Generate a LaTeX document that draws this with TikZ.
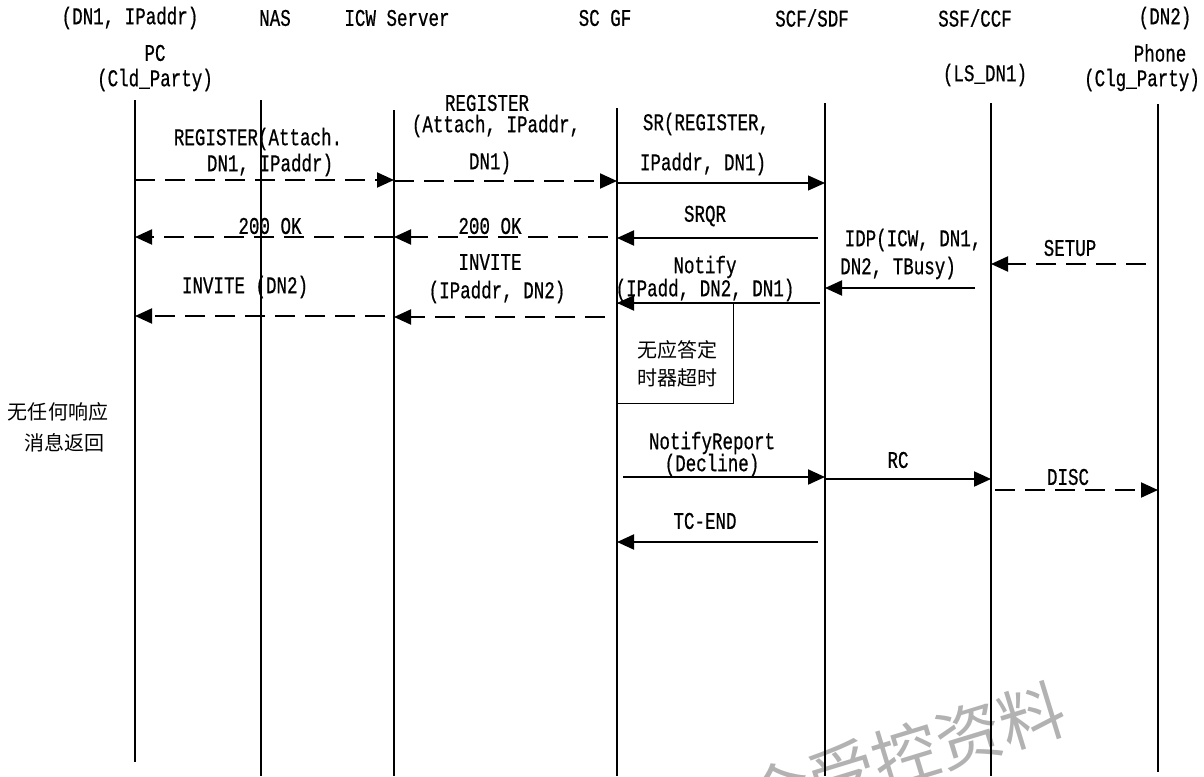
\documentclass[tikz,border=0pt]{standalone}
\usepackage{fontspec}
\setmainfont{Liberation Mono}[FakeStretch=0.73,FakeBold=0.6]
\newfontfamily\cjk{Noto Sans CJK SC}
\usetikzlibrary{arrows.meta}
\begin{document}
\begin{tikzpicture}[x=1pt,y=-1pt,
  lbl/.style={font=\fontsize{24}{26}\selectfont, inner sep=0pt, align=center},
  zh/.style={font=\cjk\fontsize{20}{28}\selectfont, inner sep=0pt, align=center},
  life/.style={line width=1.1pt, black},
  tip/.style={-{Triangle[length=17pt,width=15pt]}},
  dmsg/.style={tip, line width=2pt, dash pattern=on 20pt off 10pt},
  smsg/.style={tip, line width=2pt},
  tmsg/.style={tip, line width=1.2pt},
  wm/.style={font=\cjk\fontsize{66}{66}\selectfont, text=black!30, inner sep=0pt}]
\useasboundingbox (0,0) rectangle (1204,776);

% watermark (cut off at the lower edge, as in the reference)
\node[wm, rotate=17] (wmark) at (874,764) {非会受控资料};

% headers
\node[lbl] (h1a) at (130,18) {(DN1, IPaddr)};
\node[lbl] (h1b) at (155,53) {PC};
\node[lbl] (h1c) at (155,80) {(Cld\_Party)};
\node[lbl] (h2) at (275,18) {NAS};
\node[lbl] (h3) at (397,18) {ICW Server};
\node[lbl] (h4) at (605,18) {SC GF};
\node[lbl] (h5) at (812,18) {SCF/SDF};
\node[lbl] (h6a) at (975,18) {SSF/CCF};
\node[lbl] (h6b) at (985,75) {(LS\_DN1)};
\node[lbl] (h7a) at (1165,18) {(DN2)};
\node[lbl] (h7b) at (1160,53) {Phone};
\node[lbl] (h7c) at (1142,80) {(Clg\_Party)};

% lifelines
\coordinate (lpc) at (135,100);
\coordinate (lnas) at (261,100);
\coordinate (licw) at (394,110);
\coordinate (lgf) at (617,108);
\coordinate (lscf) at (825,103);
\coordinate (lssf) at (991,103);
\coordinate (lph) at (1158,104);
\draw[life] (lpc) -- (lpc|-0,762);
\draw[life] (lnas) -- (lnas|-0,776);
\draw[life] (licw) -- (licw|-0,776);
\draw[life] (lgf) -- (lgf|-0,776);
\draw[life] (lscf) -- (lscf|-0,776);
\draw[life] (lssf) -- (lssf|-0,776);
\draw[life] (lph) -- (lph|-0,772);

% 1 REGISTER PC -> ICW
\draw[dmsg] (lpc|-0,180) -- (licw|-0,180);
\node[lbl] (t1a) at (258,139) {REGISTER(Attach.};
\node[lbl] (t1b) at (270,165) {DN1, IPaddr)};
% 2 REGISTER ICW -> SC GF
\draw[dmsg] (licw|-0,181) -- (lgf|-0,181);
\node[lbl] (t2a) at (487,103) {REGISTER};
\node[lbl] (t2b) at (496,126) {(Attach, IPaddr,};
\node[lbl] (t2c) at (490,163) {DN1)};
% 3 SR
\draw[tmsg] (lgf|-0,183) -- (lscf|-0,183);
\node[lbl] (t3a) at (706,124) {SR(REGISTER,};
\node[lbl] (t3b) at (703,164) {IPaddr, DN1)};
% 4 SRQR
\coordinate (s4) at (818,238);
\draw[smsg] (s4) -- (lgf|-s4);
\node[lbl] (t4) at (705,216) {SRQR};
% 5 200 OK SC GF -> ICW
\coordinate (s5) at (608,237);
\draw[dmsg] (s5) -- (licw|-s5);
\node[lbl] (t5) at (490,226) {200 OK};
% 6 200 OK ICW -> PC
\draw[dmsg] (licw|-0,237) -- (lpc|-0,237);
\node[lbl] (t6) at (270,226) {200  OK};
% 7 SETUP
\coordinate (s7) at (1146,264);
\draw[dmsg] (s7) -- (lssf|-s7);
\node[lbl] (t7) at (1070,248) {SETUP};
% 8 IDP
\coordinate (s8) at (975,288);
\draw[smsg] (s8) -- (lscf|-s8);
\node[lbl] (t8a) at (913,240) {IDP(ICW, DN1,};
\node[lbl] (t8b) at (898,268) {DN2, TBusy)};
% 9 Notify
\coordinate (s9) at (820,303);
\draw[smsg] (s9) -- (lgf|-s9);
\node[lbl] (t9a) at (705,267) {Notify};
\node[lbl] (t9b) at (705,290) {(IPadd, DN2, DN1)};
% 10 INVITE SC GF -> ICW
\coordinate (s10) at (605,317);
\draw[dmsg] (s10) -- (licw|-s10);
\node[lbl] (t10a) at (490,262) {INVITE};
\node[lbl] (t10b) at (497,292) {(IPaddr, DN2)};
% 11 INVITE PC
\coordinate (s11) at (385,316);
\draw[dmsg] (s11) -- (lpc|-s11);
\node[lbl] (t11) at (245,287) {INVITE (DN2)};

% timer box
\node[draw, line width=1pt, minimum width=116pt, minimum height=100pt, inner sep=0pt, anchor=north west] (tbox) at (lgf|-0,303) {};
\node[zh] (ttxt) at (677,364) {无应答定\\时器超时};

% left note
\node[zh] (n1) at (58,412) {无任何响应};
\node[zh] (n2) at (64,443) {消息返回};

% 13 NotifyReport
\coordinate (s13) at (623,477);
\draw[smsg] (s13) -- (lscf|-s13);
\node[lbl] (t13a) at (712,443) {NotifyReport};
\node[lbl] (t13b) at (712,465) {(Decline)};
% 14 RC
\draw[smsg] (lscf|-0,479) -- (lssf|-0,479);
\node[lbl] (t14) at (898,460) {RC};
% 15 DISC
\coordinate (s15) at (995,490);
\draw[dmsg] (s15) -- (lph|-s15);
\node[lbl] (t15) at (1068,477) {DISC};
% 16 TC-END
\coordinate (s16) at (818,542);
\draw[smsg] (s16) -- (lgf|-s16);
\node[lbl] (t16) at (705,521) {TC-END};
\end{tikzpicture}
\end{document}
